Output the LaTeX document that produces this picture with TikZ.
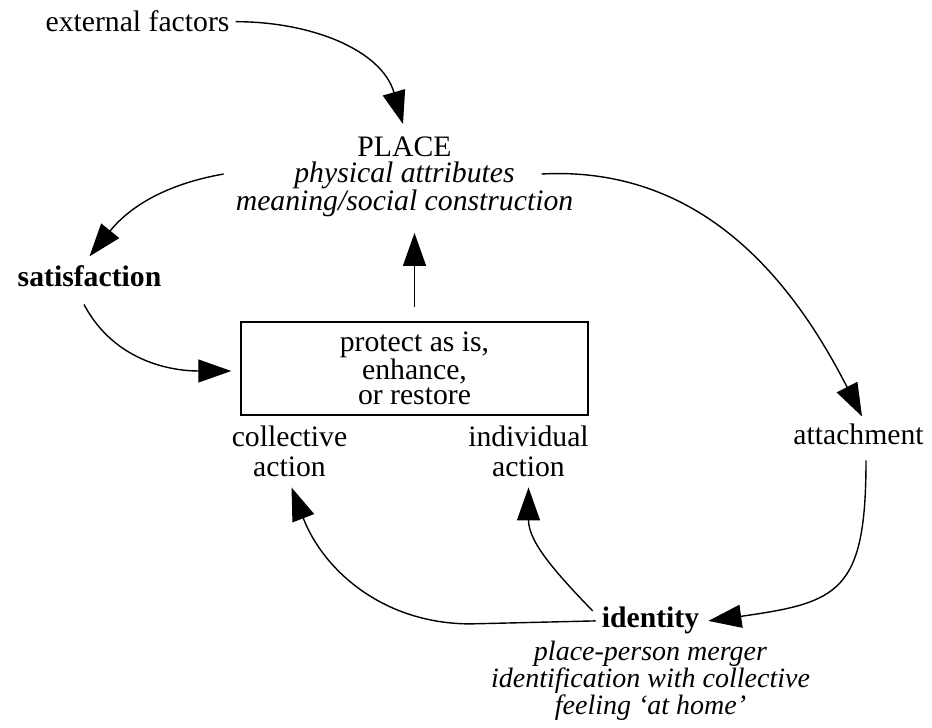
\documentclass[tikz,border=0pt]{standalone}
\usepackage{fontspec}
\setmainfont{Liberation Serif}
\usepackage{tikz}
\usetikzlibrary{arrows.meta, positioning}

\begin{document}
\begin{tikzpicture}[x=1pt, y=1pt]
\tikzstyle{lbl} = [inner sep=6pt, align=center, font=\fontsize{29.7}{26.5}\selectfont]
\tikzstyle{conn} = [line width=1.4pt, -{Triangle[length=33pt, width=23pt]}]

\useasboundingbox (0,0) rectangle (932,728);

\node (ext) [lbl, anchor=base] at (137.5,696) {external factors};
\node (place) [lbl] at (404.5,551) {PLACE\\\textit{physical attributes}\\\textit{meaning/social construction}};
\node (satisf) [lbl, anchor=base, font=\fontsize{29.7}{26.5}\selectfont\bfseries] at (89.5,441) {satisfaction};
\node (action) [lbl, draw, line width=1.5pt, minimum width=347pt, minimum height=93pt, font=\fontsize{29.7}{25.6}\selectfont] at (414.5,359.5) {protect as is,\\enhance,\\or restore};
\node (collective) [lbl, font=\fontsize{29.7}{30}\selectfont] at (289.5,276.2) {collective\\action};
\node (individual) [lbl, font=\fontsize{29.7}{30}\selectfont] at (528.5,276.2) {individual\\action};
\node (attach) [lbl, anchor=base] at (858.5,283) {attachment};
\node (identity) [lbl, anchor=base, font=\fontsize{29.7}{26.5}\selectfont\bfseries] at (650.5,100) {identity};
\node (identdesc) [lbl, below=-5.5pt of identity, font=\fontsize{28}{25}\selectfont\itshape] {place-person merger\\identification with collective\\feeling ‘at home’};

% influences on the place
\draw [conn] (ext.east) to[out=0, in=106] ([shift={(-1.5pt,6.5pt)}]place.north);
\draw [conn, shorten <=14pt, shorten >=9.5pt] (action.north) -- (action.north |- place.south);

% satisfaction loop
\draw [conn] ([shift={(-6pt,3pt)}]place.west) to[out=190, in=51] ([yshift=3.5pt]satisf.north);
\draw [conn, shorten >=9pt] ([shift={(-5.5pt,-11pt)}]satisf.south) to[out=-62, in=180] ([yshift=-2.5pt]action.west);

% attachment and identity loop
\draw [conn] ([shift={(-37.7pt,3pt)}]place.east) to[out=3, in=117] ([shift={(3.5pt,1.7pt)}]attach.north);
\draw [conn] ([shift={(7.5pt,-9pt)}]attach.south) to[out=-90, in=8, looseness=1.5] ([xshift=3pt]identity.east);
\draw [conn] ([shift={(-3pt,10pt)}]identity.west) to[out=134, in=-90] ([yshift=-4pt]individual.south);
\draw [conn] (identity.west) -- ++(-125pt,-3pt) to[out=180, in=-69] ([shift={(2pt,-4pt)}]collective.south);

\end{tikzpicture}
\end{document}
